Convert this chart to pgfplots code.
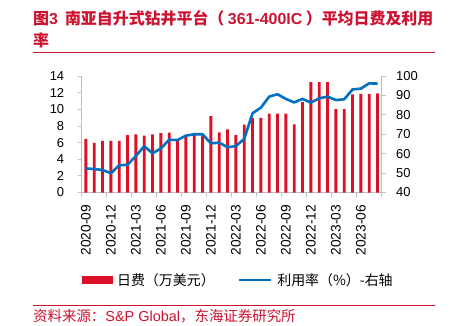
\documentclass[border=0pt]{standalone}
\usepackage{fontspec}
\setmainfont{Liberation Sans}
\newfontfamily\cjk{Noto Sans CJK SC}
\usepackage{pgfplots}
\usepackage{pgfplotstable}
\pgfplotsset{compat=1.18}

\definecolor{barred}{RGB}{220,16,38}
\definecolor{lineblue}{RGB}{0,112,192}
\definecolor{titlered}{RGB}{204,18,48}
\definecolor{axisgray}{RGB}{191,191,191}

\pgfplotstableread{
idx fee util
0 6.43 52.4
1 5.95 52.1
2 6.19 51.6
3 6.19 49.9
4 6.19 54.0
5 6.91 54.3
6 6.99 58.8
7 6.83 63.8
8 6.99 60.2
9 7.15 62.7
10 7.19 67.2
11 6.35 67.0
12 6.80 69.3
13 7.05 70.0
14 7.05 70.0
15 9.19 65.3
16 7.23 65.7
17 7.59 63.3
18 6.91 63.9
19 8.17 67.6
20 8.97 80.8
21 8.97 83.7
22 9.47 89.4
23 9.47 90.6
24 9.47 88.2
25 8.19 86.4
26 10.87 88.2
27 13.27 86.3
28 13.27 88.5
29 13.27 89.4
30 10.03 87.6
31 10.03 88.0
32 11.80 93.1
33 11.84 93.5
34 11.84 96.2
35 11.92 96.1
}\datatable

\begin{document}
\begin{tikzpicture}[x=1bp,y=1bp]
\path[use as bounding box] (0,0) rectangle (454,325);

% title
\node[anchor=base west, inner sep=0, text=titlered, font=\cjk\bfseries\fontsize{16}{16}\selectfont] at (33,301)
  {图{\rmfamily\bfseries 3}\hspace{7bp}南亚自升式钻井平台（\hspace{3.5bp}{\rmfamily\bfseries 361-400IC}\hspace{3.5bp}）平均日费及利用};
\node[anchor=base west, inner sep=0, text=titlered, font=\cjk\bfseries\fontsize{16}{16}\selectfont] at (33,278.5) {率};
\draw[titlered, line width=1bp] (33,272.5) -- (435,272.5);

% source
\draw[titlered, line width=1bp] (33,20) -- (435,20);
\node[anchor=base west, inner sep=0, text=titlered, font=\fontsize{14.5}{15}\selectfont] at (33,4)
  {{\cjk 资料来源：}S\&P Global{\cjk ，东海证券研究所}};

\pgfplotsset{
  common/.style={
    at={(81.7bp,132.5bp)}, anchor=south west,
    scale only axis, width=300bp, height=116.5bp,
    xmin=-0.5, xmax=35.5,
    axis line style={axisgray, line width=0.8bp},
    tick align=outside, major tick length=4bp,
    tick style={axisgray, line width=0.8bp},
    tick label style={font=\fontsize{13}{13}\selectfont, text=black},
    /pgf/number format/assume math mode=true,
    clip=false,
  }
}

\begin{axis}[common,
  ymin=0, ymax=14, ytick={0,2,...,14},
  axis x line*=bottom, axis y line*=left,
  xtick={-0.5,2.5,...,35.5},
  xticklabels={2020-09,2020-12,2021-03,2021-06,2021-09,2021-12,2022-03,2022-06,2022-09,2022-12,2023-03,2023-06,{}},
  x tick label style={xshift=4.2bp, yshift=-5bp, rotate=90, anchor=east, font=\fontsize{13.8}{14}\selectfont},
  y tick label style={xshift=-10bp},
]
\addplot[ybar, bar width=2.8bp, fill=barred, draw=none] table[x=idx,y=fee]{\datatable};
\end{axis}

\begin{axis}[common,
  ymin=40, ymax=100, ytick={40,50,...,100},
  axis y line*=right, axis x line=none,
  y tick label style={xshift=7bp},
  legend style={draw=none, fill=none, inner sep=0pt, outer sep=0pt,
    at={(0.0,-0.75)}, anchor=west, legend columns=2,
    font=\cjk\fontsize{14}{15}\selectfont,
    /tikz/every odd column/.append style={column sep=4bp},
    /tikz/every even column/.append style={column sep=22bp},
    nodes={inner sep=1bp}},
  legend cell align=left,
]
\addlegendimage{legend image code/.code={\fill[barred] (0bp,-3.5bp) rectangle (30bp,3.5bp);}}
\addlegendentry{日费（万美元）}
\addplot[lineblue, line width=2.6bp, line join=round, mark=none,
  legend image code/.code={\draw[lineblue, line width=2.6bp] (0bp,0bp) -- (32bp,0bp);}]
  table[x=idx,y=util]{\datatable};
\addlegendentry{利用率（\%）-右轴}
\end{axis}
\end{tikzpicture}
\end{document}
